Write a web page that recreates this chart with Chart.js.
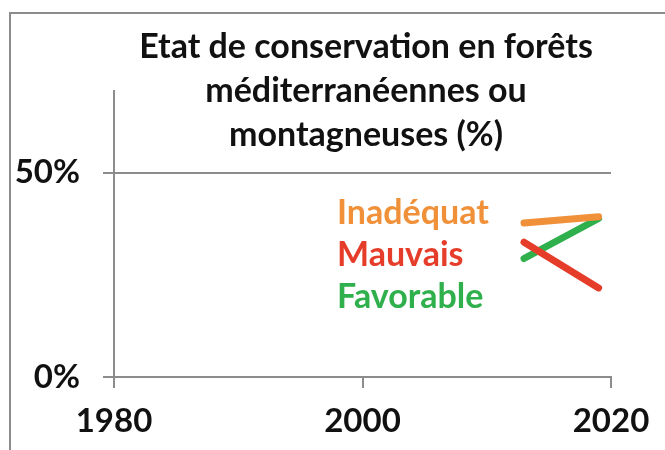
<!DOCTYPE html>
<html>
<head>
<meta charset="utf-8">
<script src="https://cdn.jsdelivr.net/npm/chart.js@4"></script>
<style>
  html, body { margin: 0; padding: 0; background: #ffffff; }
  #wrap { width: 665px; height: 450px; }
</style>
</head>
<body>
<div id="wrap"><canvas id="lineCanvas" width="665" height="450"></canvas></div>
<script>
// Données
const annees = [2013, 2019];
const inadequat = [37.7, 39.2];
const mauvais = [33, 21.8];
const favorable = [29, 38.8];
const xTicks = [1980, 2000, 2020];
const yTicks = [0, 50];
const titre = ["Etat de conservation en forêts", "méditerranéennes ou", "montagneuses (%)"];
const legendes = ["Inadéquat", "Mauvais", "Favorable"];

const orange = '#f0913a';
const rouge = '#e63d2a';
const vert = '#2fb04c';
const gris = '#8c8c8c';
const police = 'Lato, "DejaVu Sans", sans-serif';

function points(valeurs) {
    return annees.map((a, i) => ({ x: a, y: valeurs[i] }));
}

// Cadre, titre et étiquettes dessinés à la main
const decor = {
    id: 'decor',
    beforeDraw(chart) {
        const ctx = chart.ctx;
        ctx.save();
        ctx.fillStyle = '#ffffff';
        ctx.fillRect(0, 0, chart.width, chart.height);
        ctx.strokeStyle = gris;
        ctx.lineWidth = 2;
        ctx.strokeRect(10, 13, 700, 500);
        ctx.restore();
    },
    afterDraw(chart) {
        const ctx = chart.ctx;
        ctx.save();
        ctx.textAlign = 'center';
        ctx.textBaseline = 'alphabetic';
        ctx.fillStyle = '#111111';
        ctx.font = 'bold 34px ' + police;
        titre.forEach((t, i) => ctx.fillText(t, 366, 58 + i * 44));
        ctx.textAlign = 'left';
        ctx.font = 'bold 34px ' + police;
        const couleurs = [orange, rouge, vert];
        legendes.forEach((t, i) => {
            ctx.fillStyle = couleurs[i];
            ctx.fillText(t, 337, 224 + i * 42);
        });
        ctx.restore();
    }
};

function serie(label, valeurs, couleur) {
    return {
        label: label,
        data: points(valeurs),
        borderColor: couleur,
        backgroundColor: couleur,
        borderWidth: 7,
        borderCapStyle: 'round',
        pointRadius: 0,
        fill: false,
        tension: 0
    };
}

const ctx = document.getElementById('lineCanvas').getContext('2d');
new Chart(ctx, {
    type: 'line',
    data: {
        // le premier jeu est dessiné au-dessus
        datasets: [
            serie('Mauvais', mauvais, rouge),
            serie('Inadéquat', inadequat, orange),
            serie('Favorable', favorable, vert)
        ]
    },
    options: {
        responsive: false,
        animation: false,
        layout: { padding: { left: 0, top: 91, right: 54, bottom: 0 } },
        plugins: {
            legend: { display: false },
            title: { display: false },
            tooltip: { enabled: false }
        },
        scales: {
            x: {
                type: 'linear',
                min: 1980,
                max: 2020,
                afterBuildTicks: s => { s.ticks = xTicks.map(v => ({ value: v })); },
                afterFit: s => { s.height = 73; },
                grid: { drawOnChartArea: false, color: gris, lineWidth: 2, tickLength: 11 },
                border: { color: gris, width: 2 },
                ticks: {
                    color: '#111111',
                    padding: 14,
                    maxRotation: 0,
                    font: { family: police, size: 33, weight: 'bold' },
                    callback: v => String(v)
                }
            },
            y: {
                min: 0,
                max: 70,
                afterBuildTicks: s => { s.ticks = yTicks.map(v => ({ value: v })); },
                afterFit: s => { s.width = 114; },
                grid: { drawOnChartArea: true, color: gris, lineWidth: 2, tickLength: 11 },
                border: { color: gris, width: 2 },
                ticks: {
                    color: '#111111',
                    padding: 23,
                    font: { family: police, size: 33, weight: 'bold' },
                    callback: v => v + '%'
                }
            }
        }
    },
    plugins: [decor]
});
</script>
</body>
</html>
